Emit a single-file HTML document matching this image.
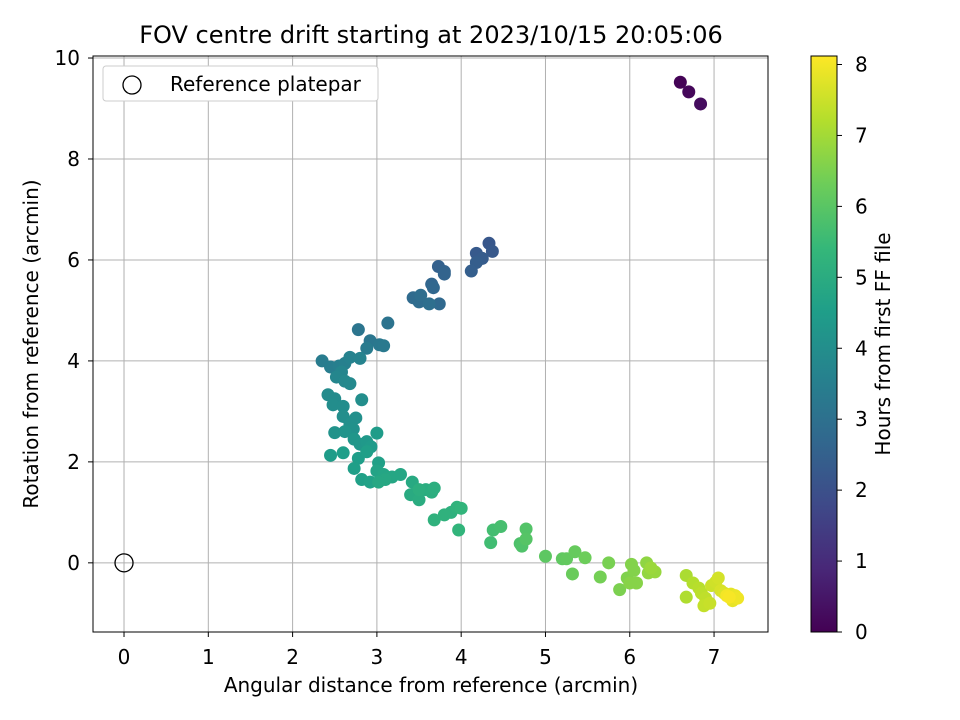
<!DOCTYPE html>
<html><head><meta charset="utf-8"><style>
html,body{margin:0;padding:0;background:#fff;}
svg{display:block;font-family:"DejaVu Sans","Liberation Sans",sans-serif;}
</style></head><body>
<svg id="chart" width="960" height="720" xmlns="http://www.w3.org/2000/svg">
<text x="431" y="43" font-size="24" text-anchor="middle">FOV centre drift starting at 2023/10/15 20:05:06</text>
<g id="grid"></g>
<g id="points"></g>
<rect x="93" y="56" width="675" height="576" fill="none" stroke="#000" stroke-width="1"/>
<g id="xticks"></g>
<g id="yticks"></g>
<text x="431" y="692" font-size="20" text-anchor="middle">Angular distance from reference (arcmin)</text>
<text transform="translate(38,344) rotate(-90)" font-size="20" text-anchor="middle">Rotation from reference (arcmin)</text>
<g>
<rect x="103" y="66" width="275" height="35" rx="3" fill="#fff" stroke="#ccc"/>
<circle cx="132" cy="85" r="9" fill="none" stroke="#000" stroke-width="1.3"/>
<text x="170" y="91" font-size="20">Reference platepar</text>
</g>
<defs><linearGradient id="vir" x1="0" y1="1" x2="0" y2="0"></linearGradient></defs>
<rect x="811" y="56" width="26" height="576" fill="url(#vir)" stroke="#000" stroke-width="1"/>
<g id="cticks"></g>
<text transform="translate(890,344) rotate(-90)" font-size="20" text-anchor="middle">Hours from first FF file</text>
</svg>
<script>
const xTicks=[0,1,2,3,4,5,6,7];
const yTicks=[0,2,4,6,8,10];
const cTicks=[0,1,2,3,4,5,6,7,8];
const refPoint=[0,0];
const xs=[6.60,6.70,6.84,
4.33,4.37,4.18,4.25,4.18,4.12,3.73,3.80,3.80,3.65,3.67,3.74,3.43,3.50,3.52,3.62,
3.13,2.78,2.92,3.03,3.08,2.88,2.35,2.45,2.55,2.62,2.68,2.80,2.58,2.52,2.62,2.68,2.42,2.50,2.48,2.60,2.82,2.60,2.75,2.68,2.72,
2.50,2.62,2.73,2.80,2.88,2.93,3.00,2.45,2.60,2.78,2.73,2.88,3.02,2.82,2.92,3.00,3.08,3.18,
3.28,3.10,3.02,3.42,3.40,3.50,3.58,3.65,3.68,3.50,3.88,3.80,3.68,3.95,3.97,4.00,
4.35,4.38,4.47,4.70,4.72,4.77,4.77,5.00,5.20,5.25,5.35,5.32,5.47,5.65,5.75,5.88,5.97,6.02,6.05,6.08,6.00,
6.20,6.22,6.30,6.25,6.67,6.67,6.75,6.82,6.85,6.90,6.88,6.95,6.97,7.02,7.05,7.08,7.12,
7.20,7.22,7.25,7.28,7.15,7.18];
const ys=[9.52,9.33,9.09,
6.33,6.17,6.13,6.03,5.95,5.78,5.87,5.77,5.72,5.52,5.45,5.13,5.25,5.17,5.30,5.13,
4.75,4.62,4.40,4.32,4.30,4.25,4.00,3.88,3.90,3.95,4.07,4.05,3.78,3.68,3.60,3.55,3.33,3.25,3.13,3.10,3.23,2.90,2.87,2.75,2.65,
2.58,2.60,2.45,2.35,2.40,2.30,2.57,2.13,2.18,2.07,1.87,2.20,1.98,1.65,1.60,1.82,1.75,1.70,
1.75,1.65,1.60,1.60,1.35,1.25,1.45,1.40,1.48,1.45,1.00,0.95,0.85,1.10,0.65,1.08,
0.40,0.65,0.72,0.38,0.33,0.67,0.47,0.13,0.08,0.08,0.22,-0.22,0.10,-0.28,0.00,-0.53,-0.30,-0.03,-0.15,-0.40,-0.40,
0.00,-0.20,-0.18,-0.10,-0.25,-0.68,-0.40,-0.50,-0.60,-0.70,-0.85,-0.80,-0.45,-0.38,-0.30,-0.55,-0.60,
-0.62,-0.75,-0.65,-0.70,-0.65,-0.68];
const hrs=[0.05,0.15,0.25,
2.2,2.25,2.3,2.35,2.4,2.45,2.5,2.55,2.6,2.65,2.7,2.75,2.8,2.85,2.9,2.95,
3.1,3.15,3.2,3.25,3.3,3.35,3.4,3.45,3.5,3.55,3.6,3.65,3.7,3.75,3.8,3.85,3.9,3.9,3.95,3.95,4.0,4.0,4.05,4.05,4.1,
4.15,4.2,4.25,4.3,4.35,4.4,4.45,4.45,4.5,4.5,4.55,4.55,4.6,4.6,4.65,4.7,4.75,4.8,
4.8,4.85,4.85,4.9,4.95,5.0,5.0,5.05,5.1,5.1,5.15,5.2,5.2,5.25,5.3,5.3,
5.6,5.65,5.7,5.8,5.85,5.9,5.95,6.05,6.1,6.15,6.2,6.25,6.3,6.4,6.45,6.5,6.55,6.6,6.6,6.65,6.65,
6.75,6.8,6.85,6.9,7.1,7.15,7.2,7.25,7.3,7.35,7.4,7.45,7.5,7.55,7.6,7.65,7.7,
7.8,7.85,7.9,7.95,8.0,8.05];
const NS="http://www.w3.org/2000/svg";
const X0=93,X1=768,Y0=56,Y1=632,xmin=-0.368,xmax=7.64,ymin=-1.37,ymax=10.04;
const xS=v=>X0+(v-xmin)/(xmax-xmin)*(X1-X0);
const yS=v=>Y1-(v-ymin)/(ymax-ymin)*(Y1-Y0);
const cmin=0,cmax=8.12;
const cS=v=>632-(v-cmin)/(cmax-cmin)*576;
const vir=[[68,1,84],[72,40,120],[62,74,137],[49,104,142],[38,130,142],[31,158,137],[53,183,121],[109,205,89],[180,222,44],[253,231,37]];
function col(t){t=Math.max(0,Math.min(1,t))*(vir.length-1);const i=Math.min(vir.length-2,Math.floor(t)),f=t-i;const a=vir[i],b=vir[i+1];return `rgb(${a.map((c,k)=>Math.round(c+(b[k]-c)*f)).join(',')})`;}
function mk(tag,attrs,parent){const e=document.createElementNS(NS,tag);for(const k in attrs)e.setAttribute(k,attrs[k]);parent.appendChild(e);return e;}
const grid=document.getElementById('grid'),xt=document.getElementById('xticks'),yt=document.getElementById('yticks'),ct=document.getElementById('cticks'),pts=document.getElementById('points');
xTicks.forEach(v=>{const x=xS(v);
const g=mk('line',{x1:x,x2:x,y1:Y0,y2:Y1,stroke:'#b0b0b0','stroke-width':1},grid);


const t=mk('line',{x1:x,x2:x,y1:Y1,y2:Y1+5,stroke:'#000'},xt);


const l=mk('text',{x:x,y:Y1+32,'font-size':20,'text-anchor':'middle'},xt);l.textContent=v;

});
yTicks.forEach(v=>{const y=yS(v);
const g=mk('line',{x1:X0,x2:X1,y1:y,y2:y,stroke:'#b0b0b0','stroke-width':1},grid);


const t=mk('line',{x1:X0-5,x2:X0,y1:y,y2:y,stroke:'#000'},yt);


const l=mk('text',{x:X0-13,y:y+7,'font-size':20,'text-anchor':'end'},yt);l.textContent=v;

});
cTicks.forEach(v=>{const y=cS(v);
const t=mk('line',{x1:837,x2:842,y1:y,y2:y,stroke:'#000'},ct);


const l=mk('text',{x:855,y:y+7,'font-size':20},ct);l.textContent=v;

});
const gr=document.getElementById('vir');
vir.forEach((c,i)=>{const s=mk('stop',{offset:(i/(vir.length-1)*100)+'%','stop-color':`rgb(${c.join(',')})`},gr);

});
xs.forEach((x,i)=>{const c=mk('circle',{cx:xS(x),cy:yS(ys[i]),r:6.5,fill:col((hrs[i]-cmin)/(cmax-cmin))},pts);

});
const r=mk('circle',{cx:xS(refPoint[0]),cy:yS(refPoint[1]),r:9,fill:'none',stroke:'#000','stroke-width':1.3},pts);


</script>
</body></html>
